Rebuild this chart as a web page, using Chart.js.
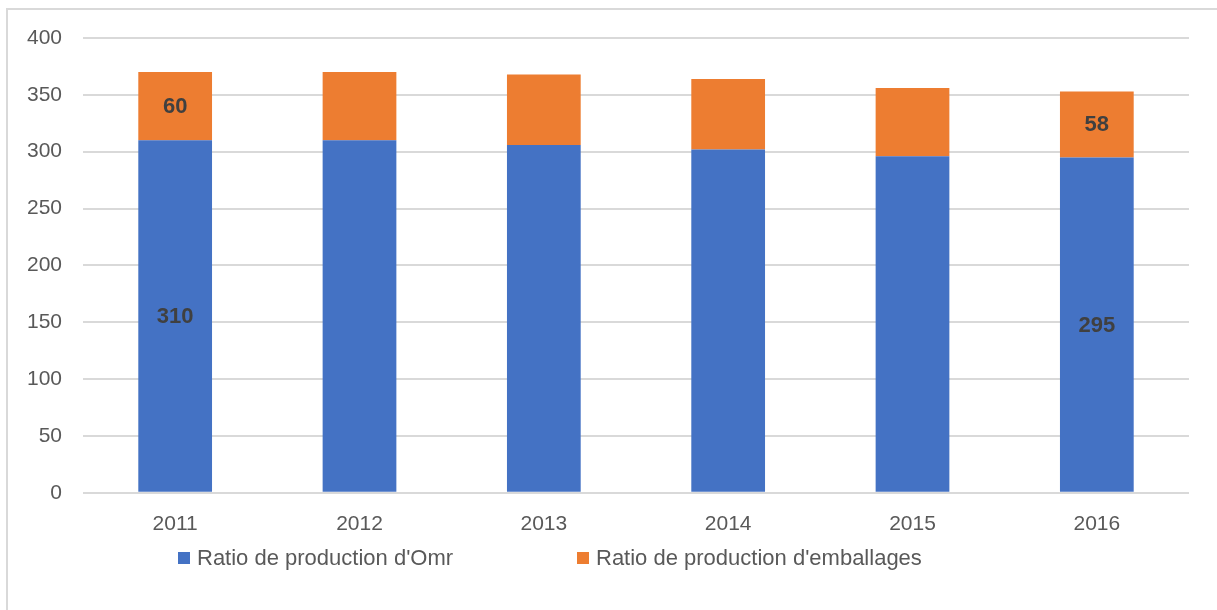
<!DOCTYPE html>
<html>
<head>
<meta charset="utf-8">
<script src="https://cdn.jsdelivr.net/npm/chart.js@4.4.1/dist/chart.umd.min.js"></script>
<style>
  html, body { margin: 0; padding: 0; background: #fff; }
  #wrap { position: relative; width: 1217px; height: 610px; }
  #frame { position: absolute; left: 6px; top: 8px; right: -2px; bottom: -2px;
           border-left: 2px solid #d9d9d9; border-top: 2px solid #d9d9d9; }
  canvas { position: absolute; left: 0; top: 0; }
</style>
</head>
<body>
<div id="wrap">
  <div id="frame"></div>
  <canvas id="chart" width="1217" height="610"></canvas>
</div>
<script>
const years = ['2011', '2012', '2013', '2014', '2015', '2016'];
const omrValues = [310, 310, 306, 302, 296, 295];
const emballageValues = [60, 60, 62, 62, 60, 58];
const seriesNames = ["Ratio de production d'Omr", "Ratio de production d'emballages"];
const yTicks = [0, 50, 100, 150, 200, 250, 300, 350, 400];
// only the first and last bars carry value labels in the original
const labelledIndexes = [0, 5];

const FONT = 'Liberation Sans';
const BLUE = '#4472C4';
const ORANGE = '#ED7D31';

// draws the bold value labels in the middle of each segment
const valueLabels = {
  id: 'valueLabels',
  afterDatasetsDraw(chart) {
    const { ctx } = chart;
    ctx.save();
    ctx.font = `bold 22px ${FONT}`;
    ctx.fillStyle = '#404040';
    ctx.textAlign = 'center';
    ctx.textBaseline = 'middle';
    chart.data.datasets.forEach((ds, di) => {
      const meta = chart.getDatasetMeta(di);
      labelledIndexes.forEach(i => {
        const bar = meta.data[i];
        const mid = (bar.y + bar.base) / 2;
        ctx.fillText(String(ds.data[i]), bar.x, mid + 1);
      });
    });
    ctx.restore();
  },
};

// legend laid out like the Excel one (wide gap between the two entries)
const excelLegend = {
  id: 'excelLegend',
  afterDraw(chart) {
    const { ctx } = chart;
    const starts = [178, 577];
    const y = 558;
    ctx.save();
    ctx.font = `22px ${FONT}`;
    ctx.textBaseline = 'middle';
    ctx.textAlign = 'left';
    chart.data.datasets.forEach((ds, i) => {
      ctx.fillStyle = ds.backgroundColor;
      ctx.fillRect(starts[i], y - 6, 12, 12);
      ctx.fillStyle = '#595959';
      ctx.fillText(ds.label, starts[i] + 19, y + 1);
    });
    ctx.restore();
  },
};

new Chart(document.getElementById('chart'), {
  type: 'bar',
  data: {
    labels: years,
    datasets: [
      {
        label: seriesNames[0],
        data: omrValues,
        backgroundColor: BLUE,
        categoryPercentage: 1,
        barPercentage: 0.4,
      },
      {
        label: seriesNames[1],
        data: emballageValues,
        backgroundColor: ORANGE,
        categoryPercentage: 1,
        barPercentage: 0.4,
      },
    ],
  },
  options: {
    responsive: false,
    animation: false,
    layout: { padding: { top: 38, right: 28, bottom: 54, left: 0 } },
    plugins: {
      legend: { display: false },
      tooltip: { enabled: false },
    },
    scales: {
      x: {
        stacked: true,
        grid: { display: false, drawTicks: false },
        border: { display: false },
        ticks: { color: '#595959', font: { size: 21, family: FONT }, padding: 19 },
      },
      y: {
        stacked: true,
        min: 0,
        max: 400,
        afterBuildTicks: (scale) => { scale.ticks = yTicks.map(v => ({ value: v })); },
        afterFit: (scale) => { scale.width = 83; },
        grid: { color: '#d9d9d9', lineWidth: 2, drawTicks: false },
        border: { display: false },
        ticks: { color: '#595959', font: { size: 21, family: FONT }, padding: 21 },
      },
    },
  },
  plugins: [valueLabels, excelLegend],
});
</script>
</body>
</html>
